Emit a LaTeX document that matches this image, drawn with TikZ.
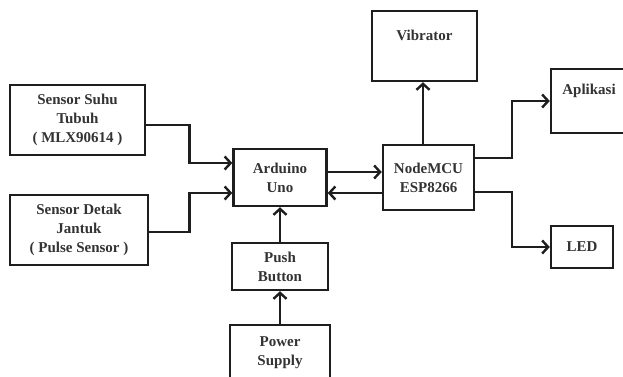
\documentclass[tikz,border=0pt]{standalone}
\usepackage{fontspec}
\setmainfont{Liberation Serif}
\usetikzlibrary{arrows.meta,calc}
\definecolor{ink}{HTML}{1E1E1E}
\definecolor{txt}{HTML}{333333}
\tikzset{
  blk/.style={draw=ink, line width=2.4pt, inner sep=0pt, align=center,
    font=\fontsize{15}{19}\selectfont\bfseries, text=txt},
  arr/.style={draw=ink, line width=2.4pt, -{Straight Barb[length=6pt,width=13pt]}},
}
\begin{document}
\begin{tikzpicture}[x=1pt,y=-1pt]
\useasboundingbox (0,0) rectangle (623,377);
\clip (0,0) rectangle (623,377);
\fill[white] (0,0) rectangle (623,377);
\node[blk, minimum width=135pt, minimum height=70pt] (suhu) at (77.5,120) {Sensor Suhu\\Tubuh\\( MLX90614 )};
\node[blk, minimum width=138pt, minimum height=70pt] (detak) at (79,230) {Sensor Detak\\Jantuk\\( Pulse Sensor )};
\node[blk, minimum width=93pt, minimum height=57pt] (ard) at (280,177.5) {Arduino\\Uno};
\node[blk, minimum width=91pt, minimum height=65pt] (mcu) at (428.5,177.5) {NodeMCU\\ESP8266};
\node[blk, minimum width=105pt, minimum height=70pt, label={[blk, draw=none, anchor=center, yshift=-26pt]north:Vibrator}] (vib) at (424.5,46) {};
\node[blk, minimum width=89pt, minimum height=64pt, label={[blk, draw=none, anchor=center, yshift=-23pt, xshift=-6.5pt]north:Aplikasi}] (apl) at (595.5,101) {};
\node[blk, minimum width=62pt, minimum height=42pt] (led) at (582,247) {LED};
\node[blk, minimum width=96pt, minimum height=47pt] (push) at (280,266.5) {Push\\Button};
\node[blk, minimum width=100pt, minimum height=75pt] (pow) at (280,362.5) {};
\node[blk, draw=none, anchor=north] at ($(pow.north)+(0,12)$) {Power\\Supply};
\draw[arr] ($(suhu.east)+(0,5)$) -| ($(ard.west)+(-43,-14.5)$) -- ($(ard.west)+(0,-14.5)$);
\draw[arr] ($(detak.east)+(0,2)$) -| ($(ard.west)+(-43,15.5)$) -- ($(ard.west)+(0,15.5)$);
\draw[arr] ($(ard.east)+(0,-5.5)$) -- ($(mcu.west)+(0,-5.5)$);
\draw[arr] ($(mcu.west)+(0,15.5)$) -- ($(ard.east)+(0,15.5)$);
\draw[arr] ($(mcu.north)+(-5.5,0)$) -- ($(vib.south)+(-1.5,0)$);
\draw[arr] ($(mcu.east)+(0,-19.5)$) -| ($(apl.west)+(-38,0)$) -- (apl.west);
\draw[arr] ($(mcu.east)+(0,14.5)$) -| ($(led.west)+(-38,0)$) -- (led.west);
\draw[arr] (push.north) -- (ard.south);
\draw[arr] (pow.north) -- (push.south);
\end{tikzpicture}
\end{document}
